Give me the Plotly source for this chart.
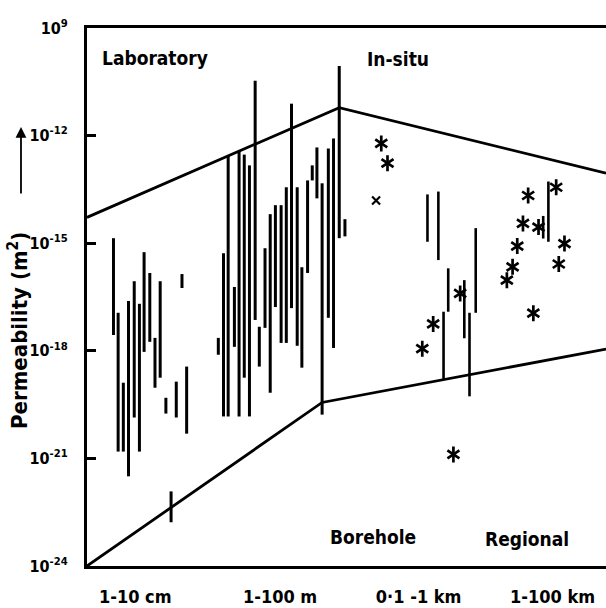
import plotly.graph_objects as go

FONT = "DejaVu Sans Condensed"

# Horizontal scale position (0-100 across the frame) and log10 permeability (m^2)
# Laboratory samples, 1-10 cm
lab_cm_x = [5.1, 6.0, 7.0, 8.0, 9.1, 10.1, 11.0, 12.1, 13.1, 14.1, 15.2, 16.2, 17.2, 18.3, 19.2]
lab_cm_top = [-14.86, -16.94, -18.89, -16.61, -16.06, -16.69, -15.25, -15.83, -17.64, -16.06, -19.31, -21.92, -18.86, -15.86, -18.44]
lab_cm_bot = [-17.56, -20.81, -20.81, -21.50, -19.86, -20.81, -18.03, -17.75, -19.03, -18.75, -19.75, -22.78, -19.86, -16.25, -20.31]

# Laboratory / field tests, 1-100 m
lab_m_x = [25.3, 26.3, 27.2, 28.4, 29.3, 30.3, 31.3, 32.4, 33.2, 34.3, 35.3, 36.3, 37.4,
           38.4, 39.4, 40.5, 41.4, 42.5, 43.4, 44.3, 45.3, 46.5, 47.5, 48.6, 49.7]
lab_m_top = [-17.64, -15.28, -12.56, -16.22, -12.42, -12.53, -12.83, -10.47, -17.33, -15.14, -14.19, -13.94, -13.94,
             -13.44, -11.11, -13.44, -15.67, -13.25, -12.83, -12.33, -13.33, -12.36, -12.08, -10.06, -14.33]
lab_m_bot = [-18.11, -19.83, -19.83, -17.89, -19.83, -18.75, -19.83, -17.14, -18.44, -17.36, -19.17, -16.78, -17.78,
             -17.78, -16.81, -17.86, -18.47, -15.83, -13.25, -13.75, -19.78, -17.08, -17.92, -14.86, -14.81]

# In-situ borehole and regional ranges
insitu_x = [65.6, 67.7, 68.7, 69.6, 72.7, 73.7, 74.9, 87.9, 88.9]
insitu_top = [-13.64, -13.56, -16.91, -15.70, -16.03, -16.94, -14.58, -14.24, -13.28]
insitu_bot = [-14.96, -15.47, -18.81, -16.91, -17.65, -19.27, -16.94, -14.87, -14.96]

# Single in-situ estimates
star_x = [56.7, 57.9, 85.0, 90.4, 84.0, 87.0, 82.9, 92.0, 82.0, 80.9, 90.9, 86.0, 71.9, 66.7, 64.6, 70.6]
star_y = [-12.22, -12.77, -13.67, -13.44, -14.45, -14.55, -15.08, -15.01, -15.66, -16.03, -15.58, -16.95,
          -16.40, -17.25, -17.94, -20.89]
cross_x = [55.7]
cross_y = [-13.81]

# Envelope of the data
upper_x = [0, 48.6, 100]
upper_y = [-14.28, -11.22, -13.05]
lower_x = [0, 45.3, 100]
lower_y = [-24.0, -19.44, -17.95]

# Axis ticks
scale_ticks = [9.3, 37.2, 63.9, 89.7]
scale_labels = ["1-10 cm", "1-100 m", "0·1 -1 km", "1-100 km"]
perm_exp = [-24, -21, -18, -15, -12, -9]
perm_labels = ["10<sup>-24</sup>", "10<sup>-21</sup>", "10<sup>-18</sup>", "10<sup>-15</sup>",
               "10<sup>-12</sup>", "10<sup>9</sup>"]


def segments(xs, tops, bots):
    px, py = [], []
    for x, t, b in zip(xs, tops, bots):
        px += [x, x, None]
        py += [10 ** t, 10 ** b, None]
    return px, py


fig = go.Figure()

for xs, tops, bots, w in [(lab_cm_x, lab_cm_top, lab_cm_bot, 3),
                          (lab_m_x, lab_m_top, lab_m_bot, 3),
                          (insitu_x, insitu_top, insitu_bot, 2.6)]:
    px, py = segments(xs, tops, bots)
    fig.add_trace(go.Scatter(x=px, y=py, mode="lines", line=dict(color="black", width=w),
                             hoverinfo="skip", showlegend=False))

for ex, ey in [(upper_x, upper_y), (lower_x, lower_y)]:
    fig.add_trace(go.Scatter(x=ex, y=[10 ** v for v in ey], mode="lines",
                             line=dict(color="black", width=2.8), showlegend=False))

# six-armed asterisks from two overlaid Y symbols
for sym in ["y-up-open", "y-down-open"]:
    fig.add_trace(go.Scatter(x=star_x, y=[10 ** v for v in star_y], mode="markers",
                             marker=dict(symbol=sym, size=10, color="black",
                                         line=dict(color="black", width=2.7)),
                             showlegend=False))

fig.add_trace(go.Scatter(x=cross_x, y=[10 ** v for v in cross_y], mode="markers",
                         marker=dict(symbol="x-thin-open", size=8, color="black",
                                     line=dict(color="black", width=2.2)),
                         showlegend=False))

label_font = dict(family=FONT, size=19, color="black", weight="bold")
xtick_font = dict(family=FONT, size=18, color="black", weight="bold")
ytick_font = dict(family=FONT, size=16, color="black", weight="bold")

fig.update_layout(
    width=606, height=608,
    margin=dict(l=87, r=0, t=28, b=42),
    paper_bgcolor="white", plot_bgcolor="white",
    font=dict(family=FONT, size=18, color="black"),
    xaxis=dict(range=[0, 100], showgrid=False, zeroline=False,
               showline=True, linecolor="black", linewidth=3, mirror=True,
               tickvals=scale_ticks, ticktext=scale_labels, ticks="",
               ticklabelstandoff=12, tickfont=xtick_font),
    yaxis=dict(type="log", range=[-24, -9], showgrid=False, zeroline=False,
               showline=True, linecolor="black", linewidth=3,
               tickvals=[10 ** e for e in perm_exp], ticktext=perm_labels,
               ticks="inside", ticklen=9, tickwidth=2.5, tickcolor="black",
               ticklabelstandoff=13, tickfont=ytick_font),
)

labels = [("Laboratory", 2.5, -9.83), ("In-situ", 53.6, -9.86),
          ("Borehole", 46.4, -23.19), ("Regional", 76.3, -23.25)]
for text, x, y in labels:
    fig.add_annotation(text=text, x=x, y=y, xref="x", yref="y", xanchor="left",
                       yanchor="middle", showarrow=False, font=label_font)

fig.add_annotation(text="Permeability (m<sup>2</sup>)", xref="paper", yref="paper",
                   x=-0.1330, y=0.4387, xanchor="center", yanchor="middle",
                   textangle=-90, showarrow=False,
                   font=dict(family=FONT, size=22, color="black", weight="bold"))
fig.add_annotation(text="", xref="paper", yref="paper", x=-0.1272, y=0.816,
                   ax=0, ay=68, showarrow=True, arrowhead=2, arrowsize=1.2,
                   arrowwidth=1.8, arrowcolor="black")

fig.write_html("out.html")
